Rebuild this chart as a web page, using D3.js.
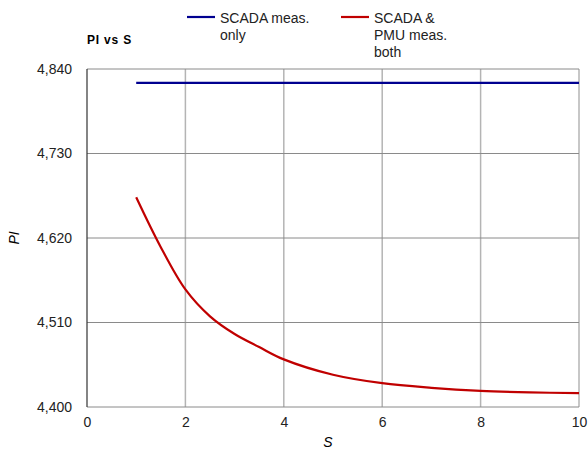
<!DOCTYPE html>
<html>
<head>
<meta charset="utf-8">
<script src="https://cdn.jsdelivr.net/npm/d3@7"></script>
<style>
  body { margin: 0; background: #fff; }
  text { font-family: "Liberation Sans", Arial, sans-serif; }
</style>
</head>
<body>
<div id="chart"></div>
<script>
// data
var sScada = [1, 10];
var piScada = [4822, 4822];
var sBoth = [1, 1.5, 2, 2.5, 3, 3.5, 4, 5, 6, 7, 8, 9, 10];
var piBoth = [4673, 4608, 4553, 4518, 4495, 4478, 4462, 4442, 4431, 4425, 4421, 4419, 4418];
var xTicks = [0, 2, 4, 6, 8, 10];
var yTicks = [4400, 4510, 4620, 4730, 4840];
var seriesNames = [["SCADA meas.", "only"], ["SCADA &", "PMU meas.", "both"]];
var seriesColors = ["#000090", "#c00000"];

var margin = {top: 69, right: 9, bottom: 42, left: 87},
    width = 588 - margin.left - margin.right,
    height = 449 - margin.top - margin.bottom;

var svg = d3.select("#chart")
  .append("svg")
  .attr("width", 588)
  .attr("height", 449);

var g = svg.append("g")
  .attr("transform", "translate(" + margin.left + "," + margin.top + ")");

var x = d3.scaleLinear().domain([0, 10]).range([0, width]);
var y = d3.scaleLinear().domain([4400, 4840]).range([height, 0]);

// vertical grid
g.append("g")
  .selectAll("line")
  .data(xTicks.filter(function(d) { return d > 0; }))
  .enter().append("line")
    .attr("x1", function(d) { return x(d); })
    .attr("x2", function(d) { return x(d); })
    .attr("y1", 0)
    .attr("y2", height)
    .style("stroke", "#b4b4b4")
    .style("stroke-width", 1.5);

// horizontal grid
g.append("g")
  .selectAll("line")
  .data(yTicks)
  .enter().append("line")
    .attr("x1", 0)
    .attr("x2", width)
    .attr("y1", function(d) { return y(d); })
    .attr("y2", function(d) { return y(d); })
    .style("stroke", "#8a8a8a")
    .style("stroke-width", 1);

// left axis line
g.append("line")
  .attr("x1", 0).attr("x2", 0)
  .attr("y1", 0).attr("y2", height)
  .style("stroke", "#333")
  .style("stroke-width", 1.2);

// axes labels
var yAxis = g.append("g")
  .call(d3.axisLeft(y).tickValues(yTicks).tickSize(0).tickPadding(15).tickFormat(d3.format(",")));
yAxis.select(".domain").remove();
yAxis.selectAll("text").style("font-size", "14px").style("fill", "#222")
  .style("font-family", "Liberation Sans, Arial, sans-serif");

var xAxis = g.append("g")
  .attr("transform", "translate(0," + height + ")")
  .call(d3.axisBottom(x).tickValues(xTicks).tickSize(0).tickPadding(10));
xAxis.select(".domain").remove();
xAxis.selectAll("text").style("font-size", "14px").style("fill", "#222")
  .style("font-family", "Liberation Sans, Arial, sans-serif");

// series
var line = d3.line()
  .x(function(d) { return x(d[0]); })
  .y(function(d) { return y(d[1]); })
  .curve(d3.curveCatmullRom);

g.append("path")
  .datum(d3.zip(sScada, piScada))
  .attr("d", line)
  .style("fill", "none")
  .style("stroke", seriesColors[0])
  .style("stroke-width", 2.2);

g.append("path")
  .datum(d3.zip(sBoth, piBoth))
  .attr("d", line)
  .style("fill", "none")
  .style("stroke", seriesColors[1])
  .style("stroke-width", 2.2);

// titles
svg.append("text")
  .attr("x", 87)
  .attr("y", 44)
  .style("font-size", "12px")
  .style("font-weight", "bold")
  .style("letter-spacing", "0.8px")
  .text("PI vs S");

svg.append("text")
  .attr("transform", "translate(19," + (margin.top + height / 2) + ") rotate(-90)")
  .attr("text-anchor", "middle")
  .style("font-size", "14px")
  .style("font-style", "italic")
  .text("PI");

svg.append("text")
  .attr("x", margin.left + width / 2 - 5)
  .attr("y", 447)
  .attr("text-anchor", "middle")
  .style("font-size", "14px")
  .style("font-style", "italic")
  .text("S");

// legend
var legendX = [187, 341];
seriesNames.forEach(function(lines, i) {
  var lg = svg.append("g").attr("transform", "translate(" + legendX[i] + ",17)");
  lg.append("line")
    .attr("x1", 0).attr("x2", 28)
    .attr("y1", 0).attr("y2", 0)
    .style("stroke", seriesColors[i])
    .style("stroke-width", 2.2);
  lines.forEach(function(t, j) {
    lg.append("text")
      .attr("x", 33)
      .attr("y", 6 + j * 17)
      .style("font-size", "14px")
      .style("fill", "#222")
      .text(t);
  });
});
</script>
</body>
</html>
